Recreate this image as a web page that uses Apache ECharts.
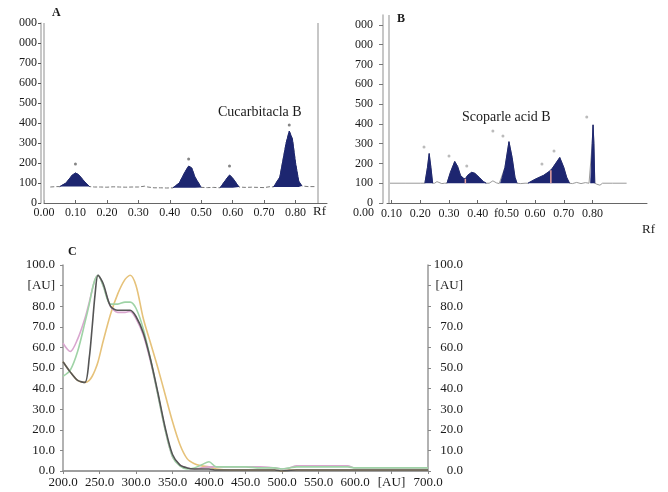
<!DOCTYPE html>
<html>
<head>
<meta charset="utf-8">
<title>HPTLC</title>
<script src="https://cdn.jsdelivr.net/npm/echarts@6/dist/echarts.min.js"></script>
<style>
  html, body { margin: 0; padding: 0; background: #fff; }
  #chart { width: 668px; height: 492px; }
</style>
</head>
<body>
<div id="chart"></div>
<script>
  // ---- panel A: densitogram (Rf / AU) ----
  const rfA = [0.02,0.04,0.05,0.07,0.09,0.10,0.11,0.13,0.145,0.16,0.18,0.20,0.22,0.24,0.26,0.28,0.30,0.32,0.33,0.35,0.37,0.39,0.41,0.43,0.45,0.46,0.47,0.48,0.50,0.52,0.54,0.56,0.58,0.59,0.60,0.62,0.64,0.66,0.68,0.70,0.72,0.73,0.75,0.77,0.78,0.79,0.80,0.81,0.82,0.84,0.86];
  const auA = [80,82,82,100,140,150,142,105,82,80,80,79,81,80,79,80,80,84,80,76,76,75,76,100,160,185,175,130,78,77,78,76,120,140,125,80,78,79,78,77,82,80,130,300,360,320,200,110,85,82,82];
  const peaksA = [[0.05,0.145],[0.41,0.50],[0.56,0.62],[0.73,0.82]];
  const marksA_rf = [0.10,0.46,0.59,0.78];
  const marksA_au = [195,220,185,390];

  // ---- panel B ----
  const rfB = [0.094,0.15,0.20,0.216,0.225,0.231,0.237,0.243,0.25,0.258,0.265,0.275,0.285,0.293,0.305,0.32,0.33,0.34,0.35,0.357,0.365,0.379,0.39,0.405,0.42,0.43,0.44,0.453,0.465,0.475,0.48,0.495,0.509,0.52,0.53,0.537,0.55,0.565,0.575,0.60,0.63,0.65,0.655,0.66,0.686,0.70,0.71,0.72,0.73,0.745,0.76,0.775,0.788,0.794,0.799,0.802,0.805,0.808,0.815,0.826,0.835,0.87,0.919];
  const auB = [100,100,100,100,180,250,180,100,100,108,104,98,100,100,155,210,185,140,125,122,140,155,150,130,108,100,100,112,102,98,100,180,310,230,130,100,98,100,100,120,140,160,165,175,230,180,130,100,98,104,98,103,100,100,300,395,300,100,95,90,100,100,100];
  const peaksB = [[0.216,0.243],[0.293,0.43],[0.48,0.537],[0.575,0.72],[0.794,0.808]];
  const sepB_rf = [0.357,0.655];
  const sepB_top = [122,165];
  const marksB_rf = [0.213,0.30,0.362,0.453,0.488,0.624,0.666,0.78];
  const marksB_au = [283,237,187,364,338,197,263,434];

  const rfTicksA = [0,0.1,0.2,0.3,0.4,0.5,0.6,0.7,0.8];
  const rfTicksB = [0.1,0.2,0.3,0.4,0.5,0.6,0.7,0.8];
  const auTicks = [0,100,200,300,400,500,600,700,800,900];

  // ---- panel C: UV spectra ----
  const wavelength = [200,210,220,230,236,240,244,248,255,265,275,285,292,300,310,320,330,340,350,360,370,380,390,400,410,430,450,470,490,500,510,520,550,590,600,650,700];
  const darkC   = [53,48,44,43,55,70,86,95,91,80,78,78,78,75,67,54,38,21,8,3,1.5,1,1,1,0.5,0.5,0.5,0.5,0.5,0,0.3,0.5,0.5,0.5,0.5,0.5,0.5];
  const pinkC   = [62,58,64,74,82,88,93,95,90,80,77,77,77.5,74,66,53,37,20,7,3,1.5,1,1.5,2,2,2,2,2,1.5,1,1.5,2.5,2.5,2.5,1.5,1.5,1.5];
  const greenC  = [46,49,58,72,81,88,93,95,90,81,81,82,82,79,69,54,37,20,7,2.5,1,1.5,3,4.5,2,2,2,1.5,1.5,1,1.5,2,2,2,1.5,1.5,1.5];
  const orangeC = [53,48,44,43,44,46,49,53,63,76,86,93,95,90,74,62,50,37,24,13,6,3.5,2.5,2,1,0.5,0.5,0.5,0.5,0,0.5,0.5,0.5,0.5,0.5,0.5,0.5];

  const FONT = 'Liberation Serif';
  const TXT = '#1a1a1a';
  const NAVY = '#1d2670';

  function pairs(xs, ys) { return xs.map((x, i) => [x, ys[i]]); }
  function segment(xs, ys, lo, hi) {
    return pairs(xs, ys).filter(p => p[0] >= lo - 1e-9 && p[0] <= hi + 1e-9);
  }
  function auLabel(v) { return v >= 800 ? '000' : String(v); }

  function peakSeries(xs, ys, wins, xi, yi) {
    return wins.map(w => {
      const seg = segment(xs, ys, w[0], w[1]);
      const base = Math.min(seg[0][1], seg[seg.length - 1][1]);
      return {
        type: 'line', xAxisIndex: xi, yAxisIndex: yi, data: seg,
        showSymbol: false, silent: true, z: 3,
        lineStyle: { color: NAVY, width: 1 },
        areaStyle: { color: NAVY, opacity: 1, origin: base }
      };
    });
  }

  const myChart = echarts.init(document.getElementById('chart'));

  const series = [];
  // A trace
  series.push({
    type: 'line', xAxisIndex: 0, yAxisIndex: 0, data: pairs(rfA, auA),
    showSymbol: false, silent: true, z: 2,
    lineStyle: { color: '#7a7a7a', width: 1, type: [4, 2] },
    markLine: {
      symbol: 'none', silent: true, label: { show: false },
      lineStyle: { color: '#b5b5b5', width: 1.5, type: 'solid' },
      data: [{ xAxis: 0.002 }, { xAxis: 0.866 }]
    }
  });
  peakSeries(rfA, auA, peaksA, 0, 0).forEach(s => series.push(s));
  series.push({
    type: 'scatter', xAxisIndex: 0, yAxisIndex: 0, data: pairs(marksA_rf, marksA_au),
    symbolSize: 3, itemStyle: { color: '#666' }, silent: true
  });

  // B trace
  series.push({
    type: 'line', xAxisIndex: 1, yAxisIndex: 1, data: pairs(rfB, auB),
    showSymbol: false, silent: true, z: 2,
    lineStyle: { color: '#9a9a9a', width: 1 },
    markLine: {
      symbol: 'none', silent: true, label: { show: false },
      lineStyle: { color: '#b5b5b5', width: 1.5, type: 'solid' },
      data: [{ xAxis: 0.087 }]
    }
  });
  peakSeries(rfB, auB, peaksB, 1, 1).forEach(s => series.push(s));
  sepB_rf.forEach((x, i) => {
    series.push({
      type: 'line', xAxisIndex: 1, yAxisIndex: 1, data: [[x, 100], [x, sepB_top[i]]],
      showSymbol: false, silent: true, z: 4,
      lineStyle: { color: '#e8a4a0', width: 1.5 }
    });
  });
  series.push({
    type: 'scatter', xAxisIndex: 1, yAxisIndex: 1, data: pairs(marksB_rf, marksB_au),
    symbolSize: 3, itemStyle: { color: '#aaa' }, silent: true
  });

  // C spectra
  [[orangeC, '#e6c27a'], [pinkC, '#d9a6cf'], [greenC, '#9fd3a6'], [darkC, '#555555']].forEach(c => {
    series.push({
      type: 'line', xAxisIndex: 2, yAxisIndex: 2, data: pairs(wavelength, c[0]),
      showSymbol: false, silent: true, smooth: 0.3,
      lineStyle: { color: c[1], width: 1.6 }
    });
  });

  const lblA = { fontFamily: FONT, fontSize: 12, color: TXT };
  const lblC = { fontFamily: FONT, fontSize: 13, color: TXT };

  myChart.setOption({
    animation: false,
    backgroundColor: '#fff',
    grid: [
      { left: 44, right: 341, top: 23, bottom: 289 },
      { left: 387, right: 21, top: 15, bottom: 289 },
      { left: 63, right: 240, top: 265, bottom: 21 }
    ],
    xAxis: [
      {
        gridIndex: 0, type: 'value', min: 0, max: 0.9,
        axisLine: { lineStyle: { color: '#666', width: 1 } },
        axisTick: { customValues: rfTicksA, inside: true, length: 3, lineStyle: { color: '#666' } },
        axisLabel: Object.assign({ customValues: rfTicksA, margin: 4, formatter: v => v.toFixed(2) }, lblA),
        splitLine: { show: false }
      },
      {
        gridIndex: 1, type: 'value', min: 0.084, max: 0.99,
        axisLine: { lineStyle: { color: '#666', width: 1 } },
        axisTick: { customValues: rfTicksB, inside: true, length: 3, lineStyle: { color: '#666' } },
        axisLabel: Object.assign({ customValues: rfTicksB, margin: 5,
          formatter: v => (v === 0.5 ? 'f0.50' : v.toFixed(2)) }, lblA),
        splitLine: { show: false }
      },
      {
        gridIndex: 2, type: 'value', min: 200, max: 700, interval: 50, position: 'bottom',
        axisLine: { lineStyle: { color: '#999', width: 1.5 } },
        axisTick: { length: 3, lineStyle: { color: '#888' } },
        axisLabel: Object.assign({ margin: 5, formatter: v => (v === 650 ? '[AU]' : v.toFixed(1)) }, lblC),
        splitLine: { show: false }
      },
      {
        gridIndex: 2, type: 'value', min: 200, max: 700, interval: 50, position: 'top',
        axisLine: { lineStyle: { color: '#999', width: 1.5 } },
        axisTick: { inside: true, length: 2, lineStyle: { color: '#888' } },
        axisLabel: { show: false },
        splitLine: { show: false }
      }
    ],
    yAxis: [
      {
        gridIndex: 0, type: 'value', min: 0, max: 900, interval: 100, offset: 3,
        axisLine: { show: true, onZero: false, lineStyle: { color: '#b5b5b5', width: 1.5 } },
        axisTick: { show: true, length: 3, lineStyle: { color: '#555' } },
        axisLabel: Object.assign({ margin: 4, formatter: auLabel }, lblA),
        splitLine: { show: false }
      },
      {
        gridIndex: 1, type: 'value', min: 0, max: 950, offset: 4,
        axisLine: { show: true, onZero: false, lineStyle: { color: '#b5b5b5', width: 1.5 } },
        axisTick: { show: true, customValues: auTicks, length: 4, lineStyle: { color: '#777' } },
        axisLabel: Object.assign({ customValues: auTicks, margin: 10, formatter: auLabel }, lblA),
        splitLine: { show: false }
      },
      {
        gridIndex: 2, type: 'value', min: 0, max: 100, interval: 10, position: 'left',
        axisLine: { show: true, onZero: false, lineStyle: { color: '#999', width: 1.5 } },
        axisTick: { show: true, length: 3, lineStyle: { color: '#888' } },
        axisLabel: Object.assign({ margin: 8, formatter: v => (v === 90 ? '[AU]' : v.toFixed(1)) }, lblC),
        splitLine: { show: false }
      },
      {
        gridIndex: 2, type: 'value', min: 0, max: 100, interval: 10, position: 'right',
        axisLine: { show: true, onZero: false, lineStyle: { color: '#999', width: 1.5 } },
        axisTick: { show: true, length: 3, lineStyle: { color: '#888' } },
        axisLabel: Object.assign({ margin: 35, align: 'right',
          formatter: v => (v === 90 ? '[AU]' : v.toFixed(1)) }, lblC),
        splitLine: { show: false }
      }
    ],
    graphic: [
      { type: 'text', left: 52, top: 7, style: { text: 'A', font: 'bold 12px "Liberation Serif"', fill: TXT } },
      { type: 'text', left: 397, top: 13, style: { text: 'B', font: 'bold 12px "Liberation Serif"', fill: TXT } },
      { type: 'text', left: 68, top: 246, style: { text: 'C', font: 'bold 12px "Liberation Serif"', fill: TXT } },
      { type: 'text', left: 218, top: 105, style: { text: 'Cucarbitacla B', font: '14px "Liberation Serif"', fill: TXT } },
      { type: 'text', left: 462, top: 110, style: { text: 'Scoparle acid B', font: '14px "Liberation Serif"', fill: TXT } },
      { type: 'text', left: 313, top: 205, style: { text: 'Rf', font: '13px "Liberation Serif"', fill: TXT } },
      { type: 'text', left: 642, top: 223, style: { text: 'Rf', font: '13px "Liberation Serif"', fill: TXT } },
      { type: 'text', left: 353, top: 207, style: { text: '0.00', font: '12px "Liberation Serif"', fill: TXT } }
    ],
    series: series
  });
</script>
</body>
</html>
